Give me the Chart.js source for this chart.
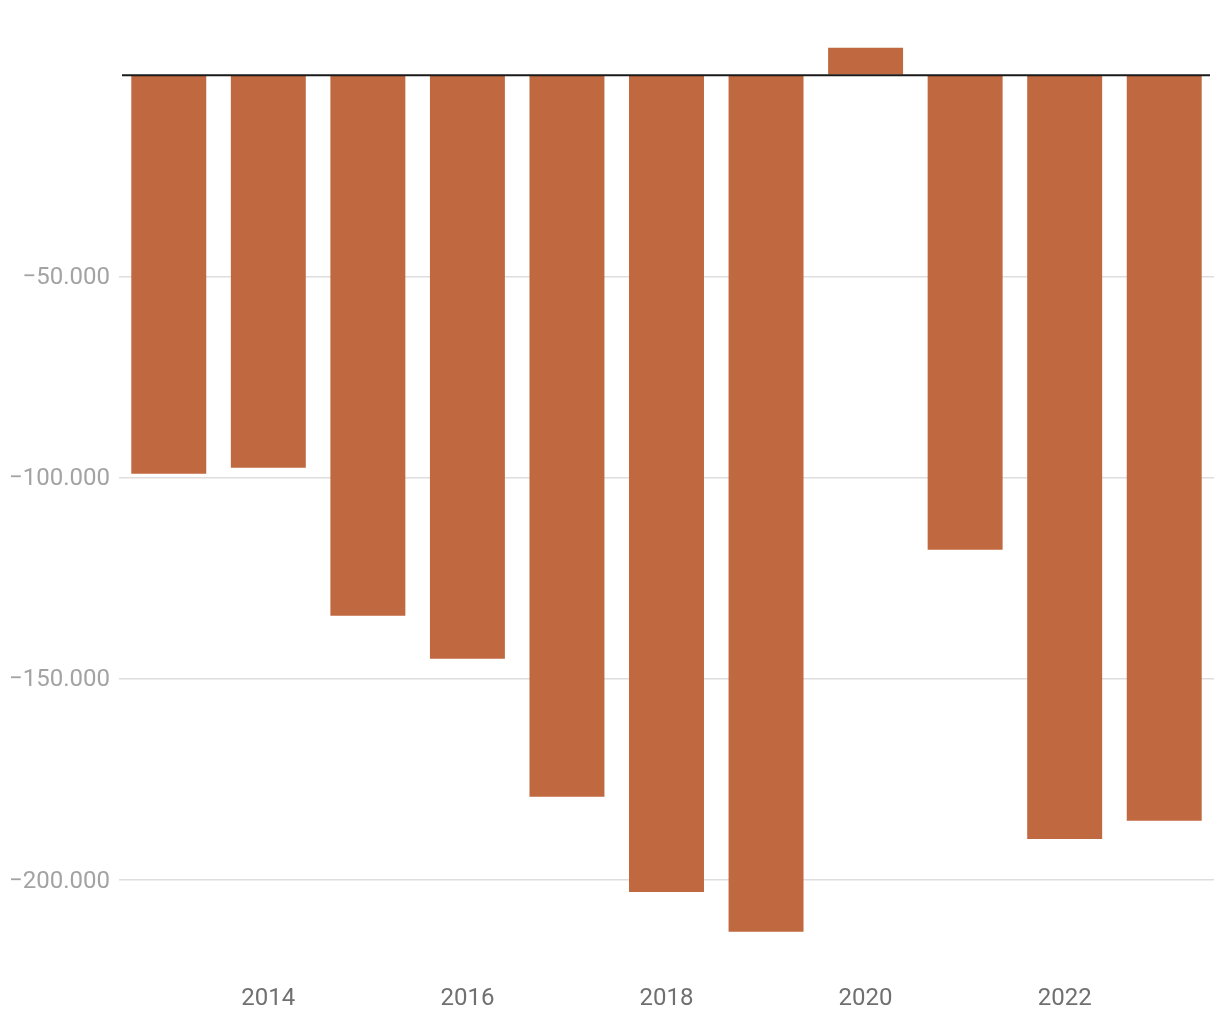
<!DOCTYPE html>
<html>
<head>
<meta charset="utf-8">
<script src="https://cdn.jsdelivr.net/npm/chart.js@4/dist/chart.umd.min.js"></script>
<style>
  html, body { margin: 0; padding: 0; background: #ffffff; }
  #wrap { width: 1220px; height: 1020px; position: relative; }
</style>
</head>
<body>
<div id="wrap"><canvas id="c"></canvas></div>
<script>
const categories = ['2013','2014','2015','2016','2017','2018','2019','2020','2021','2022','2023'];
const values = [-99100, -97600, -134400, -145100, -179400, -203100, -213000, 6800, -118000, -189900, -185400];
const yTickValues = [-200000, -150000, -100000, -50000, 0];

function fmt(v) {
  const s = Math.abs(v).toString().replace(/\B(?=(\d{3})+(?!\d))/g, '.');
  return (v < 0 ? '\u2212' : '') + s;
}

const zeroLine = {
  id: 'zeroLine',
  afterDatasetsDraw(chart) {
    const y = chart.scales.y.getPixelForValue(0);
    const ctx = chart.ctx;
    ctx.save();
    ctx.strokeStyle = '#1a1a1a';
    ctx.lineWidth = 2;
    ctx.beginPath();
    ctx.moveTo(chart.chartArea.left + 3, y);
    ctx.lineTo(chart.chartArea.right - 4, y);
    ctx.stroke();
    ctx.restore();
  }
};

new Chart(document.getElementById('c'), {
  type: 'bar',
  data: {
    labels: categories,
    datasets: [{
      data: values,
      backgroundColor: '#c0683f',
      borderWidth: 0,
      barPercentage: 0.753,
      categoryPercentage: 1
    }]
  },
  options: {
    responsive: true,
    maintainAspectRatio: false,
    animation: false,
    layout: { padding: { top: 35, right: 6, left: 0, bottom: 0 } },
    plugins: { legend: { display: false }, tooltip: { enabled: false } },
    scales: {
      x: {
        grid: { display: false },
        border: { display: false },
        ticks: {
          autoSkip: false,
          maxRotation: 0,
          color: '#707070',
          font: { family: 'Roboto', size: 24 },
          padding: 17,
          callback: function(v, i) { return i % 2 === 1 ? this.getLabelForValue(v) : ''; }
        },
        afterFit: s => { s.height = 60; }
      },
      y: {
        min: -220000,
        max: 10000,
        afterBuildTicks: s => { s.ticks = yTickValues.map(v => ({ value: v })); },
        grid: {
          drawTicks: false,
          color: ctx => ctx.tick && ctx.tick.value === 0 ? 'rgba(0,0,0,0)' : '#dedede',
          lineWidth: 1.5
        },
        border: { display: false },
        ticks: {
          color: '#a3a3a3',
          font: { family: 'Roboto', size: 24 },
          padding: 9,
          labelOffset: 2,
          callback: v => v === 0 ? '' : fmt(v)
        },
        afterFit: s => { s.width = 119; }
      }
    }
  },
  plugins: [zeroLine]
});
</script>
</body>
</html>
